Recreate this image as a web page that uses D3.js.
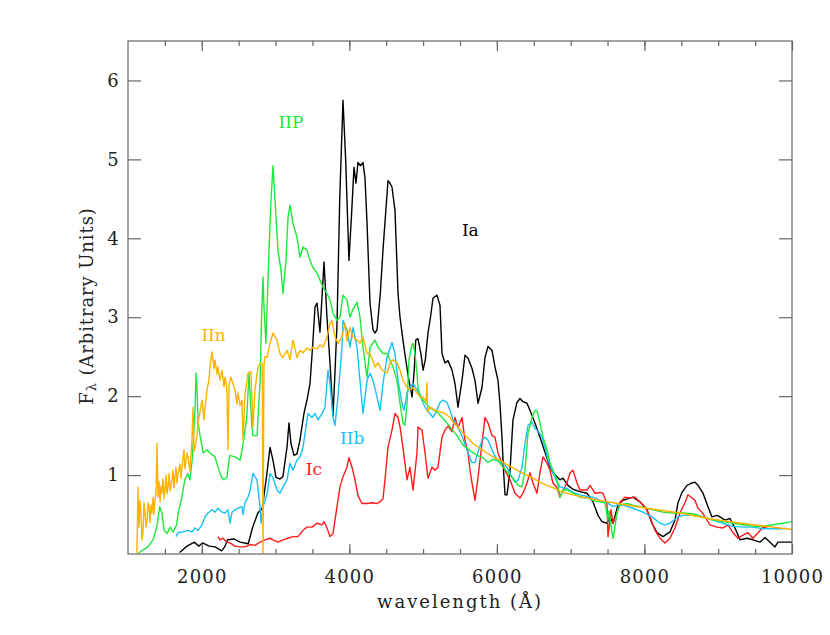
<!DOCTYPE html>
<html>
  <head>
    <script src="https://cdnjs.cloudflare.com/ajax/libs/d3/7.8.5/d3.min.js"></script>
    <style>
      body { margin: 0; background: #fff; }
      text { font-family: "DejaVu Serif", serif; fill: #222; }
    </style>
  </head>
  <body>
    <div id="chart"></div>
    <script>
      // spectra as [wavelength (A), flux] pairs
      const specIa = [[1700,0.02],[1800,0.10],[1900,0.15],[1960,0.10],[2010,0.14],[2100,0.10],[2180,0.09],[2270,0.04],[2310,0.09],[2350,0.18],[2440,0.19],[2520,0.15],[2630,0.13],[2690,0.34],[2760,0.52],[2820,0.58],[2880,1.00],[2925,1.35],[2965,1.19],[3006,0.97],[3060,0.95],[3100,0.98],[3155,1.35],[3182,1.66],[3209,1.40],[3250,1.25],[3290,1.27],[3330,1.44],[3385,1.78],[3426,1.95],[3467,2.16],[3500,2.60],[3535,3.13],[3562,3.18],[3602,2.81],[3657,3.70],[3697,3.00],[3738,2.42],[3779,1.75],[3810,2.40],[3833,2.92],[3870,4.50],[3914,5.75],[3950,5.00],[3995,3.72],[4030,4.30],[4063,4.90],[4090,4.70],[4117,4.96],[4150,4.92],[4185,4.96],[4212,4.77],[4240,4.19],[4280,3.18],[4321,2.84],[4350,2.80],[4375,2.84],[4420,3.30],[4456,3.85],[4524,4.73],[4550,4.70],[4578,4.65],[4619,4.35],[4660,3.30],[4687,3.00],[4727,2.71],[4760,2.49],[4800,2.24],[4850,1.99],[4880,2.33],[4900,2.71],[4930,2.73],[4970,2.54],[5000,2.33],[5030,2.46],[5066,2.80],[5100,3.00],[5134,3.24],[5160,3.26],[5188,3.28],[5229,3.15],[5256,2.54],[5297,2.42],[5337,2.45],[5392,2.33],[5432,2.16],[5473,1.86],[5527,2.20],[5568,2.52],[5609,2.48],[5663,2.35],[5703,2.20],[5744,1.91],[5798,2.11],[5839,2.49],[5880,2.63],[5934,2.58],[5974,2.37],[6015,2.20],[6042,1.90],[6069,1.48],[6090,1.06],[6110,0.75],[6137,0.75],[6178,1.06],[6218,1.70],[6272,1.92],[6313,1.97],[6354,1.93],[6408,1.91],[6449,1.82],[6516,1.66],[6584,1.48],[6652,1.29],[6720,1.10],[6760,1.03],[6855,0.94],[6896,0.96],[6964,0.87],[7031,0.82],[7126,0.79],[7221,0.77],[7303,0.66],[7370,0.49],[7425,0.41],[7492,0.39],[7533,0.47],[7574,0.39],[7641,0.62],[7709,0.68],[7845,0.72],[7940,0.66],[8034,0.56],[8102,0.39],[8170,0.27],[8251,0.22],[8346,0.28],[8414,0.43],[8455,0.65],[8509,0.78],[8577,0.87],[8645,0.90],[8685,0.91],[8726,0.87],[8794,0.77],[8861,0.60],[8915,0.47],[8983,0.49],[9040,0.46],[9092,0.43],[9160,0.45],[9227,0.33],[9295,0.18],[9390,0.20],[9471,0.18],[9566,0.15],[9634,0.21],[9702,0.15],[9769,0.09],[9810,0.15],[10000,0.15]];

      const specIc = [[2220,0.22],[2247,0.18],[2288,0.20],[2342,0.15],[2383,0.14],[2450,0.10],[2518,0.09],[2586,0.09],[2654,0.12],[2721,0.11],[2789,0.15],[2857,0.18],[2925,0.20],[2965,0.18],[3033,0.15],[3101,0.18],[3169,0.20],[3236,0.22],[3304,0.22],[3372,0.30],[3426,0.34],[3494,0.34],[3562,0.39],[3629,0.37],[3657,0.41],[3697,0.33],[3738,0.22],[3779,0.26],[3833,0.60],[3873,0.85],[3914,0.98],[3968,1.10],[3995,1.22],[4036,1.10],[4077,0.94],[4117,0.74],[4172,0.64],[4240,0.64],[4307,0.65],[4375,0.64],[4416,0.66],[4456,0.70],[4483,0.94],[4524,1.35],[4578,1.57],[4619,1.78],[4660,1.73],[4687,1.61],[4727,1.35],[4782,0.94],[4822,1.10],[4863,0.81],[4917,1.28],[4931,1.61],[4985,1.57],[5026,1.28],[5066,0.96],[5120,1.10],[5161,1.06],[5202,1.10],[5256,1.48],[5297,1.57],[5337,1.62],[5392,1.55],[5432,1.73],[5473,1.60],[5527,1.73],[5568,1.44],[5609,1.28],[5636,1.06],[5663,0.90],[5703,0.68],[5744,0.97],[5798,1.40],[5839,1.73],[5880,1.66],[5934,1.50],[5974,1.48],[6015,1.28],[6069,1.15],[6110,1.06],[6178,0.94],[6245,0.77],[6313,0.71],[6354,0.77],[6408,0.90],[6449,1.03],[6489,0.90],[6543,0.77],[6584,1.03],[6625,1.23],[6679,1.15],[6720,1.06],[6760,0.90],[6815,0.84],[6855,0.72],[6896,0.81],[6950,0.90],[6991,1.03],[7031,1.06],[7086,0.90],[7126,0.81],[7221,0.81],[7262,0.87],[7330,0.77],[7398,0.78],[7438,0.77],[7492,0.64],[7506,0.22],[7547,0.56],[7574,0.39],[7628,0.52],[7669,0.66],[7736,0.72],[7804,0.71],[7872,0.72],[7940,0.66],[8007,0.60],[8075,0.47],[8143,0.30],[8211,0.20],[8278,0.14],[8346,0.20],[8414,0.33],[8482,0.52],[8550,0.65],[8590,0.75],[8645,0.71],[8685,0.68],[8726,0.58],[8780,0.53],[8848,0.43],[8888,0.37],[8983,0.34],[9065,0.33],[9133,0.37],[9200,0.27],[9268,0.20],[9336,0.24],[9404,0.27],[9471,0.20],[9539,0.27],[9607,0.34],[9661,0.33]];

      const specIIb = [[1650,0.22],[1680,0.27],[1745,0.28],[1813,0.30],[1867,0.28],[1908,0.33],[1949,0.30],[2003,0.37],[2044,0.47],[2084,0.52],[2138,0.56],[2179,0.53],[2220,0.58],[2274,0.53],[2315,0.52],[2355,0.56],[2383,0.39],[2410,0.53],[2450,0.56],[2491,0.58],[2545,0.60],[2559,0.50],[2586,0.65],[2626,0.72],[2654,0.80],[2694,1.02],[2748,0.94],[2789,0.60],[2803,0.39],[2830,0.60],[2884,0.75],[2925,1.02],[2965,0.97],[3019,0.81],[3060,0.77],[3101,0.85],[3155,0.94],[3196,1.15],[3236,1.06],[3291,1.19],[3331,1.23],[3372,1.35],[3426,1.70],[3440,1.78],[3494,1.73],[3535,1.78],[3575,1.70],[3629,1.78],[3670,1.86],[3711,2.33],[3738,2.16],[3779,1.73],[3806,1.63],[3846,1.99],[3900,2.62],[3914,2.96],[3968,2.84],[4009,2.62],[4050,2.87],[4104,2.62],[4144,2.20],[4185,1.78],[4240,2.20],[4280,2.29],[4321,2.20],[4375,1.99],[4416,1.82],[4456,2.16],[4510,2.49],[4578,2.68],[4619,2.54],[4660,2.20],[4714,1.91],[4741,1.82],[4782,2.04],[4822,2.11],[4863,2.16],[4917,2.08],[4958,2.02],[4999,1.91],[5053,1.82],[5093,1.78],[5134,1.73],[5188,1.82],[5229,1.92],[5270,1.95],[5324,1.92],[5365,1.82],[5405,1.70],[5473,1.61],[5541,1.46],[5609,1.28],[5663,1.16],[5703,1.16],[5744,1.29],[5798,1.44],[5839,1.48],[5880,1.44],[5934,1.32],[6001,1.19],[6069,1.15],[6137,1.10],[6205,0.97],[6245,0.91],[6286,0.93],[6340,1.10],[6381,1.40],[6422,1.63],[6476,1.67],[6516,1.59],[6557,1.56],[6611,1.48],[6652,1.35],[6693,1.19],[6747,1.06],[6815,0.91],[6855,0.85],[6950,0.83],[7031,0.78],[7126,0.75],[7221,0.73],[7303,0.72],[7398,0.68],[7492,0.65],[7574,0.60],[7628,0.62],[7709,0.62],[7845,0.58],[7980,0.53],[8102,0.47],[8211,0.39],[8278,0.37],[8346,0.39],[8441,0.46],[8522,0.49],[8658,0.49],[8794,0.47],[8929,0.43],[9065,0.39],[9200,0.35],[9336,0.34],[9471,0.34],[9607,0.32],[9742,0.32],[9905,0.32]];

      const specIIP = [[1140,0.01],[1200,0.05],[1270,0.09],[1340,0.18],[1390,0.34],[1430,0.60],[1460,0.52],[1490,0.30],[1530,0.26],[1570,0.34],[1610,0.28],[1660,0.37],[1680,0.52],[1730,0.72],[1770,0.94],[1810,1.02],[1840,0.94],[1870,1.19],[1880,1.35],[1910,1.86],[1922,2.29],[1935,2.10],[1950,1.66],[1980,1.48],[2020,1.28],[2070,1.32],[2110,1.28],[2180,1.23],[2220,1.10],[2270,0.97],[2300,0.94],[2340,0.97],[2380,1.25],[2450,1.23],[2520,1.19],[2560,1.40],[2610,1.73],[2640,2.29],[2680,1.60],[2694,1.50],[2750,1.50],[2762,1.73],[2789,2.16],[2800,2.58],[2810,3.00],[2830,3.51],[2843,3.13],[2870,2.67],[2884,3.09],[2911,3.85],[2938,4.48],[2965,4.92],[2979,4.70],[3006,4.27],[3033,3.85],[3074,3.59],[3101,3.30],[3141,3.72],[3169,4.27],[3196,4.42],[3236,4.19],[3291,4.01],[3331,3.76],[3372,3.89],[3426,3.85],[3467,3.72],[3507,3.63],[3562,3.56],[3602,3.47],[3643,3.38],[3697,3.30],[3738,3.22],[3779,3.05],[3833,2.96],[3873,3.00],[3914,3.28],[3968,3.22],[4009,3.00],[4050,3.10],[4104,3.19],[4144,3.00],[4185,2.62],[4240,2.24],[4280,2.62],[4348,2.71],[4389,2.62],[4456,2.54],[4510,2.54],[4592,2.37],[4646,2.20],[4687,1.91],[4727,1.66],[4754,1.63],[4782,1.91],[4809,2.46],[4849,2.65],[4863,2.67],[4890,2.54],[4917,2.29],[4931,2.11],[4958,1.99],[4999,1.95],[5053,1.89],[5093,1.85],[5188,1.80],[5270,1.72],[5365,1.61],[5460,1.50],[5541,1.38],[5636,1.31],[5730,1.25],[5812,1.22],[5880,1.16],[5947,1.20],[6015,1.18],[6083,1.10],[6151,1.03],[6218,0.96],[6286,0.87],[6340,0.85],[6381,1.06],[6422,1.53],[6476,1.73],[6516,1.82],[6543,1.82],[6584,1.66],[6625,1.48],[6679,1.32],[6720,1.15],[6760,1.06],[6815,0.94],[6855,0.72],[6896,0.81],[6964,0.81],[7031,0.77],[7126,0.72],[7221,0.71],[7303,0.68],[7398,0.66],[7465,0.65],[7506,0.43],[7520,0.55],[7560,0.27],[7574,0.20],[7601,0.35],[7628,0.53],[7669,0.62],[7764,0.64],[7845,0.62],[7940,0.60],[8034,0.58],[8116,0.56],[8251,0.53],[8387,0.52],[8522,0.52],[8658,0.51],[8794,0.47],[8929,0.43],[9065,0.41],[9200,0.39],[9336,0.37],[9471,0.35],[9607,0.35],[9742,0.37],[9878,0.39],[10000,0.41]];

      const specIIn = [[1120,0.01],[1136,0.85],[1149,0.34],[1163,0.68],[1176,0.52],[1190,0.18],[1203,0.27],[1217,0.65],[1230,0.52],[1244,0.34],[1258,0.43],[1271,0.65],[1285,0.60],[1298,0.40],[1312,0.62],[1325,0.52],[1340,0.72],[1352,0.50],[1366,0.68],[1380,0.78],[1393,1.40],[1407,0.72],[1420,0.92],[1434,0.66],[1448,0.86],[1461,0.77],[1475,0.95],[1488,0.70],[1500,0.81],[1515,1.00],[1528,0.76],[1542,0.85],[1556,1.02],[1570,0.80],[1596,0.94],[1610,1.06],[1623,0.84],[1637,0.97],[1651,1.10],[1664,0.90],[1678,1.02],[1705,1.14],[1718,0.96],[1732,1.10],[1759,1.32],[1772,1.08],[1800,1.28],[1813,1.23],[1840,1.05],[1867,1.44],[1881,1.86],[1895,1.30],[1908,1.35],[1935,1.50],[1949,1.66],[1976,1.80],[2003,1.95],[2030,1.70],[2044,1.86],[2071,2.08],[2097,2.20],[2111,2.37],[2138,2.56],[2165,2.35],[2179,2.46],[2206,2.28],[2220,2.37],[2247,2.20],[2274,2.33],[2301,2.12],[2315,2.24],[2340,2.10],[2355,1.32],[2370,2.15],[2396,2.24],[2423,2.16],[2450,2.08],[2477,1.90],[2491,2.04],[2518,1.88],[2545,1.95],[2559,1.44],[2586,2.02],[2626,2.29],[2667,2.31],[2694,1.61],[2721,2.08],[2762,2.37],[2803,2.42],[2820,2.40],[2830,0.00],[2843,2.40],[2857,2.50],[2884,2.49],[2925,2.67],[2965,2.80],[3019,2.71],[3060,2.54],[3101,2.49],[3155,2.58],[3196,2.46],[3236,2.71],[3291,2.49],[3331,2.58],[3372,2.55],[3426,2.61],[3467,2.58],[3507,2.62],[3562,2.60],[3602,2.65],[3643,2.62],[3697,2.75],[3738,2.92],[3765,2.96],[3806,2.75],[3846,2.67],[3900,2.75],[3941,2.92],[3968,2.70],[4009,2.87],[4050,2.75],[4104,2.71],[4144,2.67],[4185,2.75],[4240,2.54],[4280,2.54],[4348,2.37],[4389,2.42],[4443,2.33],[4510,2.29],[4551,2.42],[4592,2.46],[4646,2.42],[4687,2.33],[4727,2.20],[4782,2.11],[4822,2.08],[4863,2.11],[4917,2.04],[4958,1.99],[4999,1.99],[5040,1.93],[5053,2.17],[5060,1.80],[5093,1.86],[5161,1.82],[5229,1.80],[5297,1.78],[5365,1.73],[5405,1.67],[5473,1.61],[5541,1.53],[5595,1.48],[5636,1.44],[5676,1.40],[5771,1.34],[5866,1.28],[5947,1.23],[6042,1.19],[6137,1.13],[6218,1.09],[6313,1.04],[6408,1.00],[6489,0.96],[6584,0.91],[6679,0.87],[6760,0.84],[6855,0.80],[6950,0.77],[7031,0.75],[7126,0.73],[7221,0.71],[7398,0.68],[7574,0.65],[8034,0.58],[8482,0.52],[8929,0.44],[9390,0.38],[9837,0.33],[10000,0.31]];

      const seriesNames = ["Ia", "Ic", "IIb", "IIP", "IIn"];
      const seriesData = [specIa, specIc, specIIb, specIIP, specIIn];
      const seriesColors = ["#000000", "#ff1a1a", "#19c0f5", "#1ee83c", "#ffb200"];
      // label anchor points [wavelength, flux]
      const labelPos = [[5640, 4.03], [3520, 1.0], [4040, 1.39], [3210, 5.4], [2160, 2.7]];

      const xMajor = [2000, 4000, 6000, 8000, 10000];
      const xMinor = d3.range(1500, 10000, 500);
      const yMajor = [1, 2, 3, 4, 5, 6];

      const width = 830, height = 635;
      const plot = { left: 128, right: 792, top: 41, bottom: 554 };

      const svg = d3.select("#chart").append("svg")
        .attr("width", width).attr("height", height);

      const x = d3.scaleLinear().domain([1000, 10000]).range([plot.left, plot.right]);
      const y = d3.scaleLinear().domain([0, 6.5]).range([plot.bottom, plot.top]);

      svg.append("defs").append("clipPath").attr("id", "plotArea")
        .append("rect").attr("x", plot.left).attr("y", plot.top)
        .attr("width", plot.right - plot.left).attr("height", plot.bottom - plot.top);

      // spectra
      const line = d3.line().x(d => x(d[0])).y(d => y(d[1]));
      svg.append("g").attr("clip-path", "url(#plotArea)")
        .selectAll("path").data(seriesData).join("path")
        .attr("d", line)
        .attr("fill", "none")
        .attr("stroke", (d, i) => seriesColors[i])
        .attr("stroke-width", 1.4)
        .attr("stroke-linejoin", "round");

      // axes, ticks pointing inward on all four sides
      const axisColor = "#666";
      function styleAxis(g) {
        g.select(".domain").remove();
        g.selectAll(".tick line").attr("stroke", axisColor).attr("stroke-width", 1.2);
        g.selectAll("text").attr("font-family", "DejaVu Serif").attr("font-size", 18)
          .attr("fill", "#222").style("letter-spacing", "1.2px");
      }
      svg.append("g").attr("transform", `translate(0,${plot.bottom})`)
        .call(d3.axisBottom(x).tickValues(xMinor).tickSize(-5).tickFormat(""))
        .call(styleAxis);
      svg.append("g").attr("transform", `translate(0,${plot.bottom})`)
        .call(d3.axisBottom(x).tickValues(xMajor).tickSize(-10).tickPadding(16).tickFormat(d3.format("d")))
        .call(styleAxis);
      svg.append("g").attr("transform", `translate(0,${plot.top})`)
        .call(d3.axisTop(x).tickValues(xMinor).tickSize(-5).tickFormat(""))
        .call(styleAxis);
      svg.append("g").attr("transform", `translate(0,${plot.top})`)
        .call(d3.axisTop(x).tickValues(xMajor).tickSize(-10).tickFormat(""))
        .call(styleAxis);
      svg.append("g").attr("transform", `translate(${plot.left},0)`)
        .call(d3.axisLeft(y).tickValues(yMajor).tickSize(-13).tickPadding(8).tickFormat(d3.format("d")))
        .call(styleAxis);
      svg.append("g").attr("transform", `translate(${plot.right},0)`)
        .call(d3.axisRight(y).tickValues(yMajor).tickSize(-13).tickFormat(""))
        .call(styleAxis);

      svg.append("rect")
        .attr("x", plot.left).attr("y", plot.top)
        .attr("width", plot.right - plot.left).attr("height", plot.bottom - plot.top)
        .attr("fill", "none").attr("stroke", axisColor).attr("stroke-width", 1.2);

      // axis titles
      svg.append("text")
        .attr("x", (plot.left + plot.right) / 2 - 1).attr("y", 608)
        .attr("text-anchor", "middle").attr("font-size", 18)
        .attr("textLength", 164).attr("lengthAdjust", "spacing")
        .text("wavelength (\u00c5)");

      const yTitle = svg.append("text")
        .attr("transform", "translate(93,306) rotate(-90)")
        .attr("text-anchor", "middle").attr("font-size", 18)
        .style("letter-spacing", "0.9px");
      yTitle.append("tspan").text("F");
      yTitle.append("tspan").attr("font-size", 13).attr("dy", 3).text("\u03bb");
      yTitle.append("tspan").attr("dy", -3).text(" (Arbitrary Units)");

      // series labels
      svg.append("g").selectAll("text").data(seriesNames).join("text")
        .attr("x", (d, i) => x(labelPos[i][0]))
        .attr("y", (d, i) => y(labelPos[i][1]))
        .attr("text-anchor", "middle")
        .attr("font-size", 17)
        .style("fill", (d, i) => seriesColors[i])
        .text(d => d);
    </script>
  </body>
</html>
